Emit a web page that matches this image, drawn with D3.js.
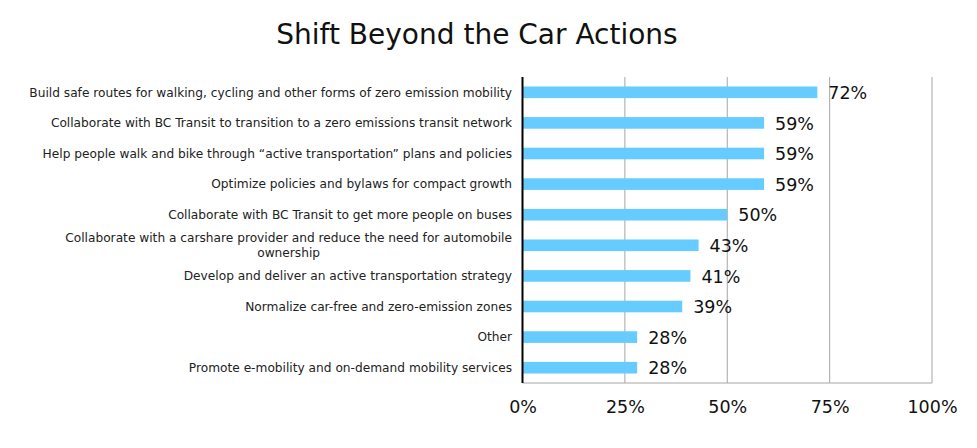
<!DOCTYPE html>
<html>
<head>
<meta charset="utf-8">
<script src="https://cdn.jsdelivr.net/npm/d3@7"></script>
<style>
  body { margin: 0; background: #fff; }
  svg { display: block; font-family: "DejaVu Sans", sans-serif; }
</style>
</head>
<body>
<div id="chart"></div>
<script>
const categories = [
    "Build safe routes for walking, cycling and other forms of zero emission mobility",
    "Collaborate with BC Transit to transition to a zero emissions transit network",
    "Help people walk and bike through \u201cactive transportation\u201d plans and policies",
    "Optimize policies and bylaws for compact growth",
    "Collaborate with BC Transit to get more people on buses",
    "Collaborate with a carshare provider and reduce the need for automobile ownership",
    "Develop and deliver an active transportation strategy",
    "Normalize car-free and zero-emission zones",
    "Other",
    "Promote e-mobility and on-demand mobility services"
];
const values = [72, 59, 59, 59, 50, 43, 41, 39, 28, 28];
const ticks = [0, 25, 50, 75, 100];

const width = 977, height = 448;
const plotL = 522.5, plotR = 932, plotT = 77, plotB = 383;

const svg = d3.select('#chart').append('svg')
    .attr('width', width)
    .attr('height', height);

svg.append('text')
    .attr('x', 477)
    .attr('y', 44)
    .attr('text-anchor', 'middle')
    .attr('font-size', 28)
    .attr('fill', '#111')
    .text('Shift Beyond the Car Actions');

const x = d3.scaleLinear().domain([0, 100]).range([plotL, plotR]);
const y = d3.scaleBand().domain(categories).range([plotT, plotB]).paddingInner(0.62).paddingOuter(0.31);

// gridlines
svg.append('g')
    .selectAll('line')
    .data(ticks.slice(1))
    .join('line')
    .attr('x1', d => x(d)).attr('x2', d => x(d))
    .attr('y1', plotT).attr('y2', plotB)
    .attr('stroke', '#a6a6a6')
    .attr('stroke-width', 1);

svg.append('line')
    .attr('x1', plotL).attr('x2', plotR)
    .attr('y1', plotB).attr('y2', plotB)
    .attr('stroke', '#a6a6a6');

// bars
svg.append('g')
    .selectAll('rect')
    .data(values)
    .join('rect')
    .attr('x', x(0))
    .attr('y', (d, i) => y(categories[i]))
    .attr('width', d => x(d) - x(0))
    .attr('height', y.bandwidth())
    .attr('fill', '#66ccff');

// value labels
svg.append('g')
    .selectAll('text')
    .data(values)
    .join('text')
    .attr('x', d => x(d) + 11)
    .attr('y', (d, i) => y(categories[i]) + y.bandwidth() / 2)
    .attr('dy', '0.38em')
    .attr('font-size', 17.5)
    .attr('fill', '#111')
    .text(d => d + '%');

// y axis line
svg.append('line')
    .attr('x1', plotL).attr('x2', plotL)
    .attr('y1', plotT).attr('y2', plotB)
    .attr('stroke', '#000')
    .attr('stroke-width', 2);

// x tick labels
const xAxis = d3.axisBottom(x).tickValues(ticks).tickFormat(d => d + '%').tickSize(0).tickPadding(0);
const gx = svg.append('g')
    .attr('transform', `translate(0,${plotB + 18})`)
    .call(xAxis);
gx.select('.domain').remove();
gx.selectAll('text')
    .attr('font-size', 17.5)
    .attr('font-family', '"DejaVu Sans", sans-serif')
    .attr('fill', '#111')
    .attr('dy', '0.71em');

// category labels with wrapping
const labelX = 512, maxW = 495;
const lab = svg.append('g');
categories.forEach((c, i) => {
    const cy = y(c) + y.bandwidth() / 2;
    const t = lab.append('text')
        .attr('text-anchor', 'end')
        .attr('font-size', 12.2)
        .attr('fill', '#222');
    const words = c.split(' ');
    let lines = [], cur = [];
    const probe = lab.append('text').attr('font-size', 12.2);
    words.forEach(w => {
        cur.push(w);
        probe.text(cur.join(' '));
        if (probe.node().getComputedTextLength() > maxW && cur.length > 1) {
            cur.pop();
            lines.push(cur.join(' '));
            cur = [w];
        }
    });
    lines.push(cur.join(' '));
    probe.text(lines[0]);
    const firstW = probe.node().getComputedTextLength();
    probe.remove();
    const lh = 15;
    const y0 = cy - (lines.length - 1) * lh / 2;
    lines.forEach((l, k) => {
        t.append('tspan')
            .attr('x', k === 0 ? labelX : labelX - firstW / 2)
            .attr('text-anchor', k === 0 ? 'end' : 'middle')
            .attr('y', y0 + k * lh)
            .attr('dy', '0.35em')
            .text(l);
    });
});
</script>
</body>
</html>
